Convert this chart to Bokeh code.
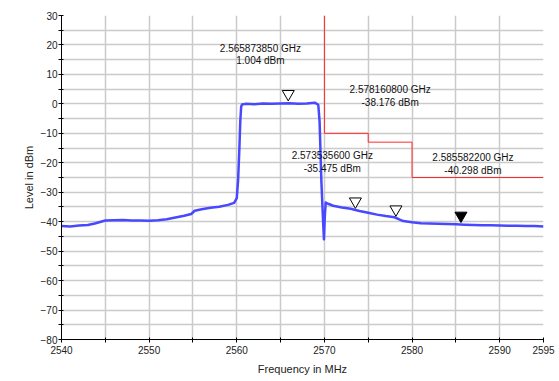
from bokeh.plotting import figure
from bokeh.models import FixedTicker, Range1d, ColumnDataSource
from bokeh.embed import file_html
from bokeh.resources import INLINE
from bokeh.core.properties import value

# ---- data ----
freq_mhz = [2540.0, 2541.0, 2542.0, 2543.0, 2543.8, 2544.5, 2545.0, 2546.0, 2547.0, 2548.0,
            2549.0, 2550.0, 2551.0, 2552.0, 2553.0, 2554.0, 2554.8, 2555.2, 2556.0, 2557.0,
            2558.0, 2559.0, 2559.7, 2560.0, 2560.15, 2560.3, 2560.4, 2560.5, 2560.6, 2561.0,
            2562.0, 2563.0, 2564.0, 2565.0, 2566.0, 2567.0, 2568.0, 2568.9, 2569.3, 2569.45,
            2569.55, 2569.65, 2569.75, 2569.85, 2569.95, 2570.05, 2570.15, 2570.5, 2571.0, 2572.0,
            2573.0, 2574.0, 2575.0, 2576.0, 2577.0, 2578.0, 2578.6, 2579.0, 2580.0, 2581.0,
            2582.0, 2583.0, 2584.0, 2585.0, 2586.0, 2587.0, 2588.0, 2589.0, 2590.0, 2591.0,
            2592.0, 2593.0, 2594.0, 2595.0]
level_dbm = [-41.5, -41.6, -41.3, -41.1, -40.6, -40.0, -39.6, -39.5, -39.4, -39.6,
             -39.6, -39.7, -39.5, -39.2, -38.6, -38.0, -37.4, -36.3, -35.8, -35.3,
             -34.9, -34.3, -33.6, -32.0, -26.0, -15.0, -6.0, -1.0, -0.2, 0.0,
             -0.1, 0.1, 0.0, 0.1, 0.2, 0.0, 0.1, 0.4, -0.3, -6.0,
             -16.0, -26.0, -33.0, -40.0, -46.0, -38.0, -33.5, -34.0, -34.6, -35.2,
             -35.6, -36.4, -37.0, -37.6, -38.1, -38.5, -39.3, -39.8, -40.2, -40.5,
             -40.6, -40.7, -40.8, -40.9, -41.0, -41.1, -41.2, -41.2, -41.3, -41.4,
             -41.4, -41.5, -41.5, -41.6]

limit_x = [2570, 2570, 2575, 2575, 2580, 2580, 2595]
limit_y = [30, -10, -10, -13, -13, -25, -25]

marker_freq = [2565.873850, 2573.535600, 2578.160800, 2585.582200]
marker_level = [1.004, -35.475, -38.176, -40.298]
marker_fill = ["white", "white", "white", "black"]

label_x = [2562.7, 2570.9, 2577.5, 2586.95]
label_y = [16.8, -19.7, 2.7, -20.5]
label_text = ["2.565873850 GHz\n1.004 dBm", "2.573535600 GHz\n-35.475 dBm",
              "2.578160800 GHz\n-38.176 dBm", "2.585582200 GHz\n-40.298 dBm"]

x_ticks = [2540, 2550, 2560, 2570, 2580, 2590, 2595]
x_minor = [2545, 2555, 2565, 2575, 2585]
y_ticks = [-80, -70, -60, -50, -40, -30, -20, -10, 0, 10, 20, 30]
y_minor = [-75, -65, -55, -45, -35, -25, -15, -5, 5, 15, 25]

FONT = "Liberation Sans"

p = figure(width=557, height=379, output_backend="svg", toolbar_location=None,
           x_range=Range1d(2540, 2595), y_range=Range1d(-80, 30),
           min_border_left=61, min_border_right=14, min_border_top=15, min_border_bottom=40)
p.outline_line_color = None
p.background_fill_color = "white"
p.border_fill_color = "white"

p.xaxis.ticker = FixedTicker(ticks=x_ticks, minor_ticks=x_minor)
p.yaxis.ticker = FixedTicker(ticks=y_ticks, minor_ticks=y_minor)

for ax in (p.xaxis, p.yaxis):
    ax.axis_line_color = "black"
    ax.major_tick_line_color = "black"
    ax.minor_tick_line_color = "black"
    ax.major_tick_in = 2
    ax.major_tick_out = 3
    ax.minor_tick_in = 2
    ax.minor_tick_out = 3
    ax.major_label_text_font = FONT
    ax.major_label_text_font_size = "10px"
    ax.major_label_text_color = "#222222"
    ax.axis_label_text_font = FONT
    ax.axis_label_text_font_size = "11px"
    ax.axis_label_text_font_style = "normal"
    ax.axis_label_text_color = "#222222"

p.xaxis.axis_label = "Frequency in MHz"
p.yaxis.axis_label = "Level in dBm"
p.xaxis.major_label_standoff = 3
p.xaxis.axis_label_standoff = 6
p.yaxis.major_label_standoff = 1
p.yaxis.axis_label_standoff = 3

for g in (p.xgrid, p.ygrid):
    g.grid_line_color = "#cacaca"
    g.grid_line_width = 1.5
    g.minor_grid_line_color = "#cacaca"
    g.minor_grid_line_width = 1.5

# limit line
p.line(limit_x, limit_y, line_color="#ff2a2a", line_width=1)

# trace
p.line(freq_mhz, level_dbm, line_color="#4848ff", line_width=2.5, line_join="round")

# markers: inverted triangles whose tip sits on the marker level
px_per_db = 324 / 110.0
tri_size = 12
tip_shift = (2.0 / 3.0) * (tri_size / 2.0) * 3 ** 0.5 / px_per_db
msrc = ColumnDataSource(dict(x=marker_freq, y=[v + tip_shift for v in marker_level],
                             fill=marker_fill))
p.scatter(x="x", y="y", source=msrc, marker="inverted_triangle", size=tri_size,
          line_color="black", line_width=1, fill_color="fill")

# marker labels
lsrc = ColumnDataSource(dict(x=label_x, y=label_y, t=label_text))
p.text(x="x", y="y", text="t", source=lsrc, text_font=value(FONT), text_font_size="10px",
       text_align="center", text_baseline="middle", text_color="#111111",
       text_line_height=1.15)

open("out.html", "w").write(file_html(p, INLINE))
